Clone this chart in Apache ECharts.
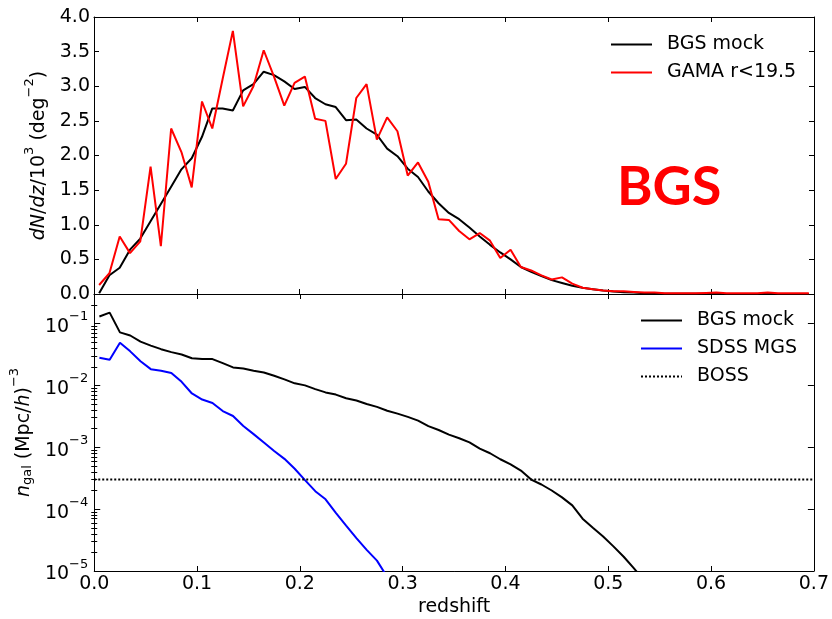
<!DOCTYPE html>
<html>
<head>
<meta charset="utf-8">
<script src="https://cdn.jsdelivr.net/npm/echarts@6/dist/echarts.min.js"></script>
<style>
html,body{margin:0;padding:0;background:#fff;}
#chart{width:832px;height:619px;}
</style>
</head>
<body>
<div id="chart"></div>
<script>
// ---- data ----
const redshift = [
  0.005,0.015,0.025,0.035,0.045,0.055,0.065,0.075,0.085,0.095,
  0.105,0.115,0.125,0.135,0.145,0.155,0.165,0.175,0.185,0.195,
  0.205,0.215,0.225,0.235,0.245,0.255,0.265,0.275,0.285,0.295,
  0.305,0.315,0.325,0.335,0.345,0.355,0.365,0.375,0.385,0.395,
  0.405,0.415,0.425,0.435,0.445,0.455,0.465,0.475,0.485,0.495,
  0.505,0.515,0.525,0.535,0.545,0.555,0.565,0.575,0.585,0.595,
  0.605,0.615,0.625,0.635,0.645,0.655,0.665,0.675,0.685,0.695
];
// dN/dz / 10^3 (deg^-2)
const dndzBgsMock = [
  0.01,0.27,0.38,0.64,0.80,1.05,1.30,1.55,1.80,1.96,
  2.27,2.68,2.68,2.65,2.94,3.03,3.21,3.16,3.07,2.96,
  2.99,2.83,2.74,2.70,2.51,2.52,2.39,2.30,2.10,1.99,
  1.81,1.69,1.48,1.31,1.17,1.08,0.96,0.83,0.71,0.60,
  0.50,0.39,0.32,0.26,0.20,0.16,0.12,0.09,0.07,0.05,
  0.035,0.025,0.02,0.01,0.008,0.005,0.004,0.003,0.002,0.002,
  0.001,0.001,0.001,0.001,0,0,0,0,0,0
];
const dndzGama = [
  0.13,0.30,0.83,0.59,0.76,1.84,0.69,2.39,2.05,1.54,
  2.78,2.39,3.10,3.80,2.71,3.00,3.52,3.14,2.72,3.05,
  3.14,2.53,2.50,1.66,1.88,2.83,3.03,2.23,2.55,2.35,
  1.71,1.90,1.62,1.08,1.07,0.91,0.79,0.88,0.77,0.52,
  0.64,0.39,0.34,0.27,0.21,0.24,0.15,0.09,0.07,0.05,
  0.04,0.04,0.03,0.02,0.02,0.01,0.01,0.01,0.01,0.015,
  0.02,0.01,0.01,0.01,0.01,0.02,0.01,0.01,0.01,0.01
];
// n_gal (Mpc/h)^-3
const ngalBgsMock = [
  0.130,0.150,0.072,0.064,0.051,0.044,0.0385,0.0345,0.0316,0.0275,
  0.0266,0.0266,0.0229,0.0195,0.0188,0.0173,0.0162,0.0143,0.0125,0.0108,
  0.0100,0.0087,0.0077,0.0071,0.0062,0.0057,0.0050,0.0045,0.0039,0.0035,
  0.0031,0.0027,0.0022,0.0019,0.0016,0.0014,0.0012,0.00095,0.00080,0.00064,
  0.00053,0.00042,0.00030,0.00025,0.00020,0.000155,0.000115,0.00007,0.00005,0.000036,
  0.000025,0.000017,0.000011,0.000007
];
const ngalSdssMgs = [
  0.028,0.026,0.049,0.0355,0.0245,0.0183,0.0173,0.0159,0.0114,0.0074,
  0.0059,0.0052,0.00385,0.0032,0.0022,0.00163,0.00119,0.00087,0.00065,0.00045,
  0.000295,0.000195,0.000144,0.000087,0.000054,0.000034,0.000022,0.0000147,0.000008
];
const bossDensity = 3e-4;
const bossRange = [0.0, 0.7];
const topLegend = ['BGS mock', 'GAMA r<19.5'];
const bottomLegend = ['BGS mock', 'SDSS MGS', 'BOSS'];
const logMajorTicks = [1e-5, 1e-4, 1e-3, 1e-2, 1e-1];
const xTickLabels = ['0.0','0.1','0.2','0.3','0.4','0.5','0.6','0.7'];

// ---- chart ----
const FONT = 'DejaVu Sans';
const FS = 19;
function pairs(xs, ys) { return ys.map((y, i) => [xs[i], y]); }
const logMinor = [];
for (let e = -5; e <= -1; e++) for (let k = 2; k <= 9; k++) { const v = k * Math.pow(10, e); if (v < 0.3) logMinor.push(+v.toPrecision(3)); }

const axisLine = { show: true, onZero: false, lineStyle: { color: '#000', width: 1 } };
function mkX(grid, pos, labels, name) {
  return {
    type: 'value', gridIndex: grid, position: pos, min: 0, max: 0.7, interval: 0.1,
    axisLine: axisLine,
    axisTick: { show: true, inside: true, length: 5, lineStyle: { color: '#000' } },
    axisLabel: { show: labels, margin: 4, fontFamily: FONT, fontSize: FS, color: '#000',
      formatter: v => xTickLabels[Math.round(v * 10)] },
    splitLine: { show: false },
    name: name || '', nameLocation: 'middle', nameGap: 27,
    nameTextStyle: { fontFamily: FONT, fontSize: FS, color: '#000' }
  };
}
const richSup = {
  t: { fontFamily: FONT, fontSize: FS, lineHeight: 26, verticalAlign: 'bottom', color: '#000' },
  i: { fontFamily: FONT, fontSize: FS, fontStyle: 'italic', lineHeight: 26, verticalAlign: 'bottom', color: '#000' },
  s: { fontFamily: FONT, fontSize: 13, lineHeight: 12, verticalAlign: 'top', color: '#000' },
  u: { fontFamily: FONT, fontSize: 13, lineHeight: 12, verticalAlign: 'bottom', color: '#000' }
};
const legendBase = {
  orient: 'vertical', padding: 0, itemWidth: 41, itemHeight: 14, itemGap: 9,
  itemStyle: { opacity: 0 },
  textStyle: { fontFamily: FONT, fontSize: FS, color: '#000', padding: [0, 0, 0, 10] }
};

const chart = echarts.init(document.getElementById('chart'), null, { renderer: 'canvas' });
chart.setOption({
  animation: false,
  backgroundColor: '#fff',
  grid: [
    { left: 94, right: 18, top: 17, height: 277 },
    { left: 94, right: 18, top: 294, height: 277 }
  ],
  xAxis: [
    mkX(0, 'bottom', false),
    mkX(0, 'top', false),
    mkX(1, 'bottom', true, 'redshift'),
    mkX(1, 'top', false)
  ],
  yAxis: [
    { type: 'value', gridIndex: 0, position: 'left', min: 0, max: 4, interval: 0.5,
      axisLine: axisLine,
      axisTick: { show: true, inside: true, length: 5, lineStyle: { color: '#000' } },
      axisLabel: { margin: 4, fontFamily: FONT, fontSize: FS, color: '#000', formatter: v => v.toFixed(1) },
      splitLine: { show: false },
      name: '{i|dN}{t|/}{i|dz}{t|/10}{s|3}{t| (deg}{s|−2}{t|)}',
      nameLocation: 'middle', nameGap: 38,
      nameTextStyle: { fontFamily: FONT, fontSize: FS, color: '#000', rich: richSup } },
    { type: 'value', gridIndex: 0, position: 'right', min: 0, max: 4, interval: 0.5,
      axisLine: axisLine,
      axisTick: { show: true, inside: true, length: 5, lineStyle: { color: '#000' } },
      axisLabel: { show: false }, splitLine: { show: false } },
    { type: 'log', logBase: 10, gridIndex: 1, position: 'left', min: 1e-5, max: 0.3,
      axisLine: axisLine,
      axisTick: { show: true, inside: true, length: 6, customValues: logMajorTicks, lineStyle: { color: '#000' } },
      axisLabel: { margin: 6, customValues: logMajorTicks, color: '#000',
        formatter: v => '{t|10}{s|−' + Math.abs(Math.round(Math.log10(v))) + '}', rich: richSup },
      splitLine: { show: false },
      name: '{i|n}{u|gal}{t| (Mpc/}{i|h}{t|)}{s|−3}',
      nameLocation: 'middle', nameGap: 58,
      nameTextStyle: { fontFamily: FONT, fontSize: FS, color: '#000', rich: richSup } },
    { type: 'log', logBase: 10, gridIndex: 1, position: 'right', min: 1e-5, max: 0.3,
      axisLine: axisLine,
      axisTick: { show: true, inside: true, length: 6, customValues: logMajorTicks, lineStyle: { color: '#000' } },
      axisLabel: { show: false }, splitLine: { show: false } },
    { type: 'log', logBase: 10, gridIndex: 1, position: 'left', min: 1e-5, max: 0.3,
      axisLine: { show: false },
      axisTick: { show: true, inside: true, length: 3, customValues: logMinor, lineStyle: { color: '#000' } },
      axisLabel: { show: false }, splitLine: { show: false } },
    { type: 'log', logBase: 10, gridIndex: 1, position: 'right', min: 1e-5, max: 0.3,
      axisLine: { show: false },
      axisTick: { show: true, inside: true, length: 3, customValues: logMinor, lineStyle: { color: '#000' } },
      axisLabel: { show: false }, splitLine: { show: false } }
  ],
  legend: [
    Object.assign({ data: topLegend, left: 610, top: 35 }, legendBase),
    Object.assign({ data: bottomLegend, left: 640, top: 311 }, legendBase)
  ],
  graphic: [
    { type: 'text', left: 617, top: 161, z: 100,
      style: { text: 'BGS', fill: '#ff0000', fontFamily: 'Lato', fontWeight: 'bold', fontSize: 54 } }
  ],
  series: [
    { name: 'BGS mock', type: 'line', xAxisIndex: 0, yAxisIndex: 0, symbol: 'none',
      data: pairs(redshift, dndzBgsMock), lineStyle: { color: '#000', width: 2 }, itemStyle: { color: '#000' } },
    { name: 'GAMA r<19.5', type: 'line', xAxisIndex: 0, yAxisIndex: 0, symbol: 'none',
      data: pairs(redshift, dndzGama), lineStyle: { color: '#ff0000', width: 2 }, itemStyle: { color: '#ff0000' } },
    { name: 'BGS mock', type: 'line', xAxisIndex: 2, yAxisIndex: 2, symbol: 'none', clip: true,
      data: pairs(redshift, ngalBgsMock), lineStyle: { color: '#000', width: 2 }, itemStyle: { color: '#000' } },
    { name: 'SDSS MGS', type: 'line', xAxisIndex: 2, yAxisIndex: 2, symbol: 'none', clip: true,
      data: pairs(redshift, ngalSdssMgs), lineStyle: { color: '#0000ff', width: 2 }, itemStyle: { color: '#0000ff' } },
    { name: 'BOSS', type: 'line', xAxisIndex: 2, yAxisIndex: 2, symbol: 'none', clip: true,
      data: bossRange.map(z => [z, bossDensity]), lineStyle: { color: '#000', width: 2, type: 'dotted' }, itemStyle: { color: '#000' } }
  ]
});
</script>
</body>
</html>
